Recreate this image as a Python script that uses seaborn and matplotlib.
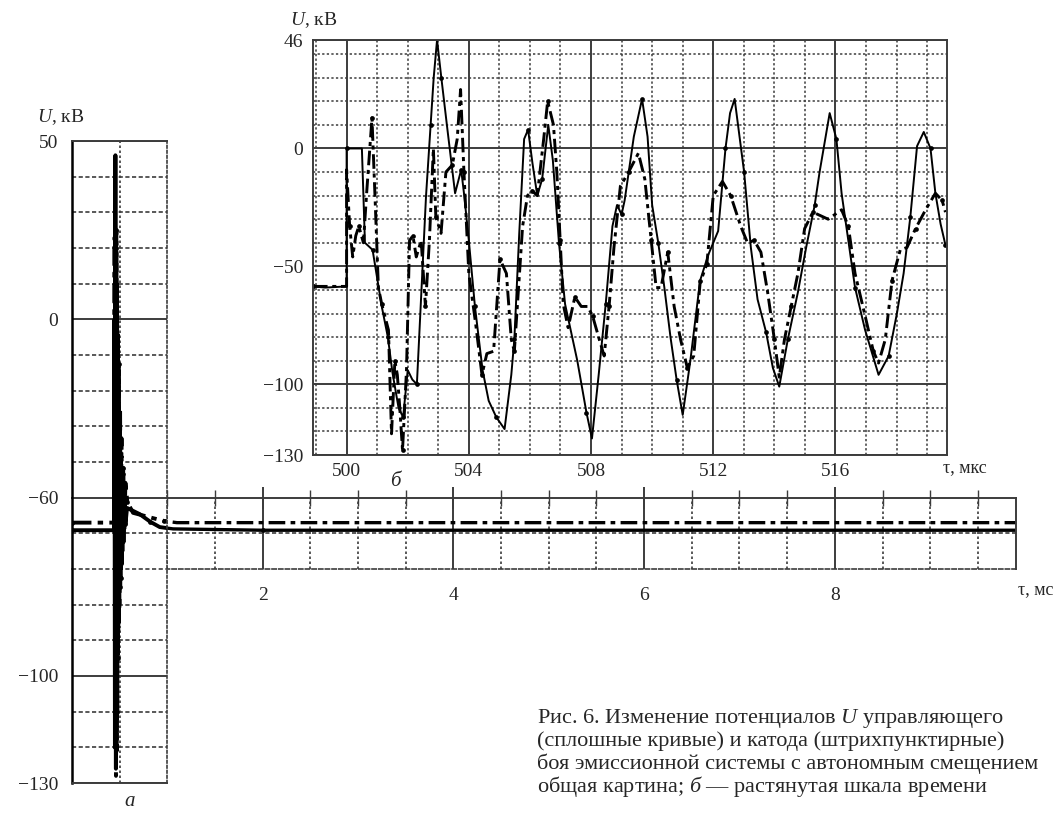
"""Breakdown of the emission system: grid and cathode potentials (fig. 6 a, b)."""

import numpy as np
import matplotlib

matplotlib.use("Agg")
import matplotlib.pyplot as plt
import seaborn as sns

# --- panel б: stretched time scale (tau in mks, U in kV) ---
grid_t_b = [498.9, 499.3, 500.0, 500.0, 500.5, 500.6, 500.85, 501.0, 501.15, 501.35,
            501.5, 501.7, 501.85, 502.0, 502.15, 502.3, 502.45, 502.6, 502.75, 502.85,
            502.96, 503.1, 503.3, 503.55, 503.75, 503.85, 504.0, 504.2, 504.45, 504.65,
            504.9, 505.17, 505.39, 505.49, 505.65, 505.81, 505.94, 506.08, 506.24, 506.4,
            506.6, 506.75, 506.95, 507.15, 507.55, 507.85, 508.03, 508.25, 508.48, 508.7,
            508.85, 509.0, 509.1, 509.4, 509.67, 509.85, 510.0, 510.2, 510.4, 510.6,
            510.8, 511.0, 511.25, 511.57, 511.84, 512.16, 512.4, 512.55, 512.7, 513.01,
            513.23, 513.45, 513.73, 513.95, 514.16, 514.44, 514.77, 515.04, 515.32, 515.48,
            515.81, 516.03, 516.2, 516.42, 516.64, 516.97, 517.41, 517.74, 518.01, 518.23,
            518.45, 518.67, 518.89, 519.11, 519.27, 519.44, 519.6]
grid_u_b = [-58.5, -59, -58.5, 0, 0, -40, -43, -55, -67, -80,
            -95, -110, -114, -94, -98, -100, -60, -20, 10, 30,
            46, 30, 8, -19, -9, -20, -39, -67, -94, -107,
            -114, -119, -96, -81, -36, 4, 8, -6, -20, -13,
            10, -5, -40, -66, -90, -112, -123, -96, -66, -33,
            -24, -28, -22, 5, 21, 5, -24, -40, -59, -80,
            -98, -113, -90, -56, -45, -35, 0, 15, 21, -10,
            -42, -64, -78, -93, -101, -81, -61, -42, -24, -10,
            15, 4, -19, -39, -59, -77, -96, -88, -70, -53,
            -29, 1, 7, 0, -19, -32, -41]

cath_t_b = [498.9, 500.0, 500.0, 500.1, 500.2, 500.3, 500.4, 500.55, 500.65, 500.83,
            500.94, 501.04, 501.15, 501.37, 501.47, 501.58, 501.66, 501.74, 501.83, 501.96,
            502.06, 502.17, 502.28, 502.44, 502.58, 502.71, 502.84, 502.92, 503.09, 503.25,
            503.46, 503.62, 503.73, 503.84, 504.0, 504.22, 504.43, 504.59, 504.81, 505.02,
            505.23, 505.39, 505.49, 505.76, 505.92, 506.08, 506.24, 506.45, 506.58, 506.77,
            506.88, 506.99, 507.09, 507.25, 507.47, 507.68, 507.89, 508.05, 508.27, 508.43,
            508.59, 508.75, 508.96, 509.23, 509.55, 509.76, 509.97, 510.13, 510.29, 510.51,
            510.72, 510.93, 511.15, 511.36, 511.57, 511.79, 512.0, 512.3, 512.57, 512.9,
            513.12, 513.34, 513.56, 513.78, 514.0, 514.16, 514.33, 514.55, 514.77, 514.99,
            515.26, 515.76, 516.2, 516.42, 516.64, 516.97, 517.24, 517.41, 517.63, 517.85,
            518.12, 518.34, 518.62, 518.95, 519.27, 519.49, 519.6]
cath_u_b = [-58.5, -58.5, -9, -33, -46, -37, -33, -40, -20, 13,
            -24, -59, -66, -77, -121, -90, -96, -110, -128, -94,
            -39, -37, -46, -39, -67, -39, 0, -29, -36, -10,
            -7, 4, 25, -10, -53, -74, -96, -87, -86, -47,
            -53, -81, -86, -33, -20, -18, -20, 4, 20, 10,
            -10, -39, -66, -76, -63, -67, -67, -71, -81, -88,
            -67, -42, -16, -10, -2, -13, -39, -59, -59, -44,
            -67, -81, -93, -88, -57, -49, -20, -14, -20, -33,
            -40, -39, -44, -61, -81, -97, -81, -67, -53, -34,
            -27, -30, -26, -33, -53, -71, -86, -91, -81, -56,
            -43, -42, -34, -26, -19, -22, -27]

# --- panel а: whole picture (tau in ms, U in kV) ---
grid_t_a = [0, 0.44, 0.445, 0.45, 0.455, 0.46, 0.463, 0.466, 0.47, 0.474,
            0.478, 0.482, 0.487, 0.492, 0.498, 0.505, 0.512, 0.52, 0.53, 0.54,
            0.55, 0.56, 0.577, 0.71, 0.82, 0.92, 1.06, 2.0, 5.35, 9.9]
grid_u_a = [-67.3, -67.3, 0, -120, 46, -126, 20, -118, 10, -110,
            -5, -95, -20, -88, -35, -80, -45, -75, -52, -70,
            -57, -66, -62.3, -63.7, -65.4, -66.6, -67.0, -67.3, -67.3, -67.3]

cath_t_a = [0, 0.44, 0.447, 0.452, 0.457, 0.461, 0.465, 0.469, 0.473, 0.477,
            0.481, 0.486, 0.491, 0.497, 0.504, 0.511, 0.519, 0.528, 0.537, 0.548,
            0.56, 0.58, 0.64, 0.85, 0.96, 1.1, 9.9]
cath_u_a = [-65.6, -65.6, 23, -100, 13, -128, 25, -121, 0, -96,
            -10, -90, -15, -85, -30, -78, -40, -72, -50, -67,
            -55, -61, -63.4, -64.6, -65.2, -65.6, -65.6]

# non-uniform U scale of panel а: labelled values and the grid cell they sit on
u_marks_a = [-130, -100, -60, 0, 50]
u_cells_a = [0, 3, 8, 13, 18]
u_minor_a = [-120, -110, -92, -84, -76, -68, -48, -36, -24, -12, 10, 20, 30, 40]
t_major_a = [2, 4, 6, 8]

u_major_b = [46, 0, -50, -100, -130]
u_minor_b = [-120, -110, -90, -80, -70, -60, -40, -30, -20, -10, 10, 20, 30, 40]
t_major_b = [500, 504, 508, 512, 516]

caption = [
    "Рис. 6. Изменение потенциалов $U$ управляющего",
    "(сплошные кривые) и катода (штрихпунктирные)",
    "боя эмиссионной системы с автономным смещением",
    "общая картина; $б$ — растянутая шкала времени",
]

W, H = 1057, 814
INK = "#262626"
GRID = "#3c3c3c"

sns.set_theme(style="white")
plt.rcParams["font.family"] = ["Liberation Serif", "DejaVu Serif"]
plt.rcParams["mathtext.fontset"] = "custom"
plt.rcParams["mathtext.rm"] = "Liberation Serif"
plt.rcParams["mathtext.it"] = "Liberation Serif:italic"
plt.rcParams["text.color"] = INK


def box(left, top, right, bottom):
    return [left / W, 1 - bottom / H, (right - left) / W, (bottom - top) / H]


def minus(v):
    return str(v).replace("-", "\u2212")


def curve(ax, t, u, dashdot, lw):
    sns.lineplot(x=t, y=u, ax=ax, sort=False, estimator=None, color="black",
                 linewidth=lw, marker="o", markersize=3.4, markeredgewidth=0,
                 markevery=3)
    line = ax.lines[-1]
    if dashdot:
        line.set_dashes([5, 1.6, 1.4, 1.6])
    ax.set_xlabel("")
    ax.set_ylabel("")


fig = plt.figure(figsize=(W / 100, H / 100), dpi=100)

# strip of panel а (shares the time scale, -76..-60 kV)
ax_s = fig.add_axes(box(72, 497.7, 1016, 569))
# left column of panel а (full voltage range, first ms)
ax_c = fig.add_axes(box(72, 141, 167.4, 783))
# panel б
ax_b = fig.add_axes(box(313, 40, 947, 455))

ax_s.set_zorder(1)
ax_c.set_zorder(2)
ax_b.set_zorder(3)

# ---------- strip ----------
for t, u, dd in ((cath_t_a, cath_u_a, True), (grid_t_a, grid_u_a, False)):
    curve(ax_s, t, u, dd, 2.4)
ax_s.set_xlim(0, 9.9)
ax_s.set_ylim(-76, -60)
ax_s.set_xticks(t_major_a, labels=[str(v) for v in t_major_a])
ax_s.set_xticks(np.arange(0.5, 9.9, 0.5), minor=True)
ax_s.set_yticks([])
ax_s.set_yticks([-68], minor=True)
ax_s.grid(which="major", axis="x", color=GRID, lw=1.4, ls="-")
ax_s.grid(which="minor", axis="x", color=GRID, lw=1.2, ls=(0, (1.5, 1.5)))
ax_s.grid(which="minor", axis="y", color=GRID, lw=1.2, ls=(0, (2.5, 1.5)))
ax_s.tick_params(axis="x", which="major", direction="inout", length=16, width=1.4,
                 color=GRID, top=True, labelsize=14, labelcolor=INK, pad=5)
ax_s.tick_params(axis="x", which="minor", direction="inout", length=12, width=1.0,
                 color=GRID, top=True)
ax_s.tick_params(axis="y", which="both", length=0)
for side in ("top", "right"):
    ax_s.spines[side].set_color(GRID)
    ax_s.spines[side].set_linewidth(1.4)
ax_s.spines["bottom"].set_color(GRID)
ax_s.spines["bottom"].set_linewidth(1.2)
ax_s.spines["bottom"].set_linestyle((0, (2.5, 1.5)))
ax_s.spines["left"].set_visible(False)
ax_s.patch.set_alpha(0)

# ---------- column ----------
for t, u, dd in ((cath_t_a, cath_u_a, True), (grid_t_a, grid_u_a, False)):
    curve(ax_c, t, u, dd, 2.8)
ax_c.set_yscale("function",
                functions=(lambda v: np.interp(v, u_marks_a, u_cells_a),
                           lambda c: np.interp(c, u_cells_a, u_marks_a)))
ax_c.set_xlim(0, 1)
ax_c.set_ylim(-130, 50)
ax_c.set_yticks(u_marks_a, labels=[minus(v) for v in u_marks_a])
ax_c.set_yticks(u_minor_a, minor=True)
ax_c.set_xticks([0.5], labels=[""])
ax_c.grid(which="major", axis="y", color=GRID, lw=1.4, ls="-")
ax_c.grid(which="minor", axis="y", color=GRID, lw=1.2, ls=(0, (2.5, 1.5)))
ax_c.grid(which="major", axis="x", color=GRID, lw=1.2, ls=(0, (1.5, 1.5)))
ax_c.tick_params(axis="y", which="major", direction="out", length=7, width=1.4,
                 color=GRID, labelsize=14, labelcolor=INK, pad=3)
ax_c.tick_params(axis="y", which="minor", length=0)
ax_c.tick_params(axis="x", which="both", length=0)
ax_c.set_facecolor("white")
for side in ("left", "top", "bottom"):
    ax_c.spines[side].set_color(GRID)
    ax_c.spines[side].set_linewidth(1.4)
ax_c.spines["left"].set_color("black")
ax_c.spines["left"].set_linewidth(1.8)
ax_c.spines["right"].set_color(GRID)
ax_c.spines["right"].set_linewidth(1.2)
ax_c.spines["right"].set_linestyle((0, (1.5, 1.5)))

# ---------- panel б ----------
curve(ax_b, cath_t_b, cath_u_b, True, 2.1)
curve(ax_b, grid_t_b, grid_u_b, False, 1.4)
ax_b.set_xlim(498.9, 519.65)
ax_b.set_ylim(-130, 46)
ax_b.set_xticks(t_major_b, labels=[str(v) for v in t_major_b])
ax_b.set_xticks(np.arange(499, 520), minor=True)
ax_b.set_yticks(u_major_b, labels=[minus(v) for v in u_major_b])
ax_b.set_yticks(u_minor_b, minor=True)
ax_b.grid(which="major", color=GRID, lw=1.4, ls="-")
ax_b.grid(which="minor", color=GRID, lw=1.1, ls=(0, (1.5, 1.5)))
ax_b.tick_params(axis="y", which="major", direction="out", length=5, width=1.4,
                 color=GRID, labelsize=14, labelcolor=INK, pad=2)
ax_b.tick_params(axis="x", which="major", direction="out", length=0,
                 labelsize=14, labelcolor=INK, pad=6)
ax_b.tick_params(which="minor", length=0)
for side in ax_b.spines.values():
    side.set_color(GRID)
    side.set_linewidth(1.4)

# ---------- texts ----------
fig.text(61 / W, 1 - 117 / H, "$U$, кВ", ha="center", va="center", fontsize=14)
fig.text(314 / W, 1 - 20 / H, "$U$, кВ", ha="center", va="center", fontsize=14)
fig.text(130 / W, 1 - 801 / H, "а", ha="center", va="center", fontsize=15,
         fontstyle="italic")
fig.text(395 / W, 1 - 481 / H, "б", ha="center", va="center", fontsize=15,
         fontstyle="italic")
fig.text(965 / W, 1 - 468 / H, "τ, мкс", ha="center", va="center", fontsize=13)
fig.text(1053 / W, 1 - 590 / H, "τ, мс", ha="right", va="center", fontsize=13)

for i, line in enumerate(caption):
    fig.text(537 / W, 1 - (719 + 22.5 * i) / H, line, ha="left", va="center",
             fontsize=16)

fig.savefig("out.png", dpi=100)
plt.close(fig)
